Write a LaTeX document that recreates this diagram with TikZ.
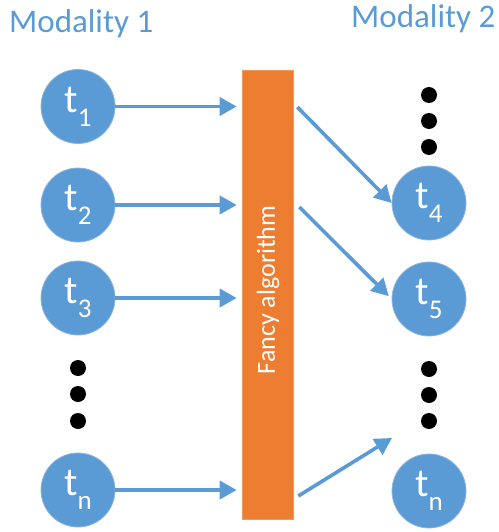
\documentclass[tikz,border=0pt]{standalone}
\usepackage{fontspec}
\setmainfont{Carlito}
\usetikzlibrary{arrows.meta,calc}
\definecolor{tblue}{HTML}{5B9BD5}
\definecolor{tedge}{HTML}{8CB4DE}
\definecolor{torange}{HTML}{ED7D31}
\newcommand{\tlab}[1]{t\raisebox{-14pt}{\fontsize{27}{27}\selectfont #1}}
\tikzset{
  token/.style={circle, fill=tblue, draw=tedge, line width=0.8pt, minimum size=74pt,
    inner sep=0pt, text=white, font=\fontsize{40}{40}\selectfont},
  ddot/.style={circle, fill=black, minimum size=16pt, inner sep=0pt},
  flow/.style={draw=tblue, line width=3.6pt, -{Triangle[length=17pt,width=18pt]}},
  heading/.style={text=tblue, font=\fontsize{33}{33}\selectfont, inner sep=0pt}
}
\begin{document}
\begin{tikzpicture}[x=1pt,y=-1pt]
  \useasboundingbox (0,0) rectangle (498,532);
  % headings
  \node[heading, anchor=base west] (m1) at (9,33) {Modality 1};
  \node[heading, anchor=base west] (m2) at (351,28) {Modality 2};
  % processing bar
  \node[fill=torange, draw=torange!80!white, line width=0.6pt, minimum width=51pt,
        minimum height=449pt, inner sep=0pt] (bar) at (267.5,294.5) {};
  \node[rotate=90, text=white, font=\fontsize{26}{26}\selectfont] (alg) at (268,290) {Fancy algorithm};
  % modality 1 tokens
  \node[token] (a1) at (78,106.5) {\tlab{1}};
  \node[token] (a2) at (78,205) {\tlab{2}};
  \node[token] (a3) at (78,298) {\tlab{3}};
  \node[token] (an) at (78,490) {\tlab{n}};
  \node[ddot] (ld1) at (78,368) {};
  \node[ddot] (ld2) at (78,394) {};
  \node[ddot] (ld3) at (78,421) {};
  % modality 2 tokens
  \node[ddot] (rd1) at (429,95) {};
  \node[ddot] (rd2) at (429,121) {};
  \node[ddot] (rd3) at (429,147) {};
  \node[token] (b4) at (429,203) {\tlab{4}};
  \node[token] (b5) at (429,299) {\tlab{5}};
  \node[ddot] (rd4) at (429,369) {};
  \node[ddot] (rd5) at (429,395) {};
  \node[ddot] (rd6) at (429,421) {};
  \node[token] (bn) at (429,491) {\tlab{n}};
  % inputs into the bar
  \foreach \s in {a1,a2,a3,an}
    \draw[flow, shorten >=5pt] (\s.east) -- (\s.east -| bar.west);
  % outputs from the bar
  \coordinate (o1) at ($(bar.east |- a1)+(4,0.5)$);
  \coordinate (o2) at ($(bar.east |- a2)+(6,2)$);
  \coordinate (o3) at ($(bar.east |- an)+(5,6)$);
  \coordinate (free) at (392,438);
  \draw[flow] (o1) -- (b4.west);
  \draw[flow, shorten >=4pt] (o2) -- (b5.west);
  \draw[flow] (o3) -- (free);
\end{tikzpicture}
\end{document}
